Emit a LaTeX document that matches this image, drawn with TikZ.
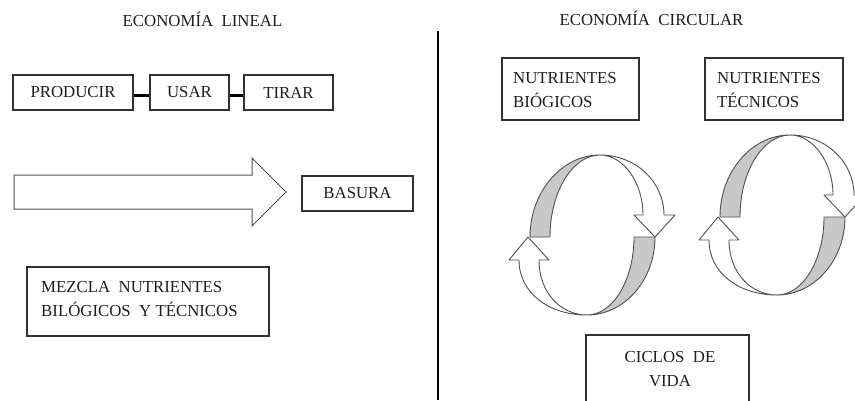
\documentclass[tikz,border=0pt]{standalone}
\usepackage{fontspec}
\setmainfont{Liberation Serif}
\definecolor{ink}{RGB}{30,30,30}
\definecolor{edge}{RGB}{50,50,50}
\definecolor{soft}{RGB}{80,80,80}
\definecolor{band}{RGB}{200,200,200}
\tikzset{
  txt/.style={text=ink,inner sep=0pt,font=\fontsize{16.8}{24}\selectfont},
  box/.style={txt,draw=edge,line width=1.3pt,minimum height=35pt},
  frame/.style={draw=edge,line width=1.3pt,inner sep=0pt},
  link/.style={line width=3pt,black},
  bandline/.style={draw=soft,line width=0.9pt,line join=round},
  ciclo/.pic={
    % upper arrow: grey inner face on the left
    \path[bandline,fill=band] (530,237) .. controls (530,192) and (561.5,155) .. (600,155)
      .. controls (572.5,155) and (550,192) .. (550,237) -- cycle;
    % upper arrow: white outer face with head on the right
    \path[bandline,fill=white] (600,155) .. controls (636,155) and (664,182) .. (664,215)
      -- (675,215) -- (655,237) -- (634,215) -- (643,215)
      .. controls (643,182) and (623,155) .. (600,155) -- cycle;
    % lower arrow: grey face on the right
    \path[bandline,fill=band] (655,237) .. controls (655,280) and (624.4,315) .. (587,315)
      .. controls (613,315) and (634,280) .. (634,237) -- cycle;
    % lower arrow: white face with head on the left
    \path[bandline,fill=white] (587,315) .. controls (549,315) and (519,293) .. (519,260)
      -- (509,260) -- (528,237) -- (549,260) -- (539,260)
      .. controls (539,293) and (561,315) .. (587,315) -- cycle;
  }
}
\begin{document}
\begin{tikzpicture}[x=1pt,y=-1pt]
\useasboundingbox[fill=white] (0,0) rectangle (855,400);

% ---------- left: linear economy ----------
\node[txt,anchor=base] (tl) at (202.5,26) {ECONOMÍA\ \ LINEAL};

\node[box,minimum width=120pt] (prod) at (73,92.5) {PRODUCIR};
\node[box,minimum width=79pt] (usar) at (189.5,92.5) {USAR};
\node[box,minimum width=89pt] (tirar) at (288.5,92.5) {TIRAR};
\draw[link] ([yshift=-2.5pt]prod.east) -- ([yshift=-2.5pt]usar.west);
\draw[link] ([yshift=-2.5pt]usar.east) -- ([yshift=-2.5pt]tirar.west);

% big block arrow
\draw[draw=soft,line width=1pt,fill=white,line join=miter]
  (14,175) -- (252,175) -- (252,158) -- (286,192) -- (252,226) -- (252,209) -- (14,209) -- cycle;

\node[box,minimum width=111pt] (bas) at (357.5,193.5) {BASURA};

\node[frame,minimum width=242pt,minimum height=69pt] (mez) at (148,301.5) {};
\node[txt,anchor=base west] (mez1) at (41,292) {MEZCLA\ \ NUTRIENTES};
\node[txt,anchor=base west] (mez2) at (41,316) {BILÓGICOS\ \ Y TÉCNICOS};

% divider
\draw[line width=2.8pt,black] (438,31) -- (438,400);

% ---------- right: circular economy ----------
\node[txt,anchor=base] (tc) at (651.5,25) {ECONOMÍA\ \ CIRCULAR};

\node[frame,minimum width=137pt,minimum height=62pt] (bio) at (570.5,89) {};
\node[txt,anchor=base west] (bio1) at (513,83) {NUTRIENTES};
\node[txt,anchor=base west] (bio2) at (513,107) {BIÓGICOS};

\node[frame,minimum width=138pt,minimum height=62pt] (tec) at (774,89) {};
\node[txt,anchor=base west] (tec1) at (717,83) {NUTRIENTES};
\node[txt,anchor=base west] (tec2) at (717,107) {TÉCNICOS};

\pic at (0,0) {ciclo};
\pic at (190,-20) {ciclo};

\node[frame,minimum width=163pt,minimum height=80pt] (cic) at (667.5,375) {};
\node[txt,anchor=base] (cic1) at (670,362) {CICLOS\ \ DE};
\node[txt,anchor=base] (cic2) at (670,386) {VIDA};
\end{tikzpicture}
\end{document}
